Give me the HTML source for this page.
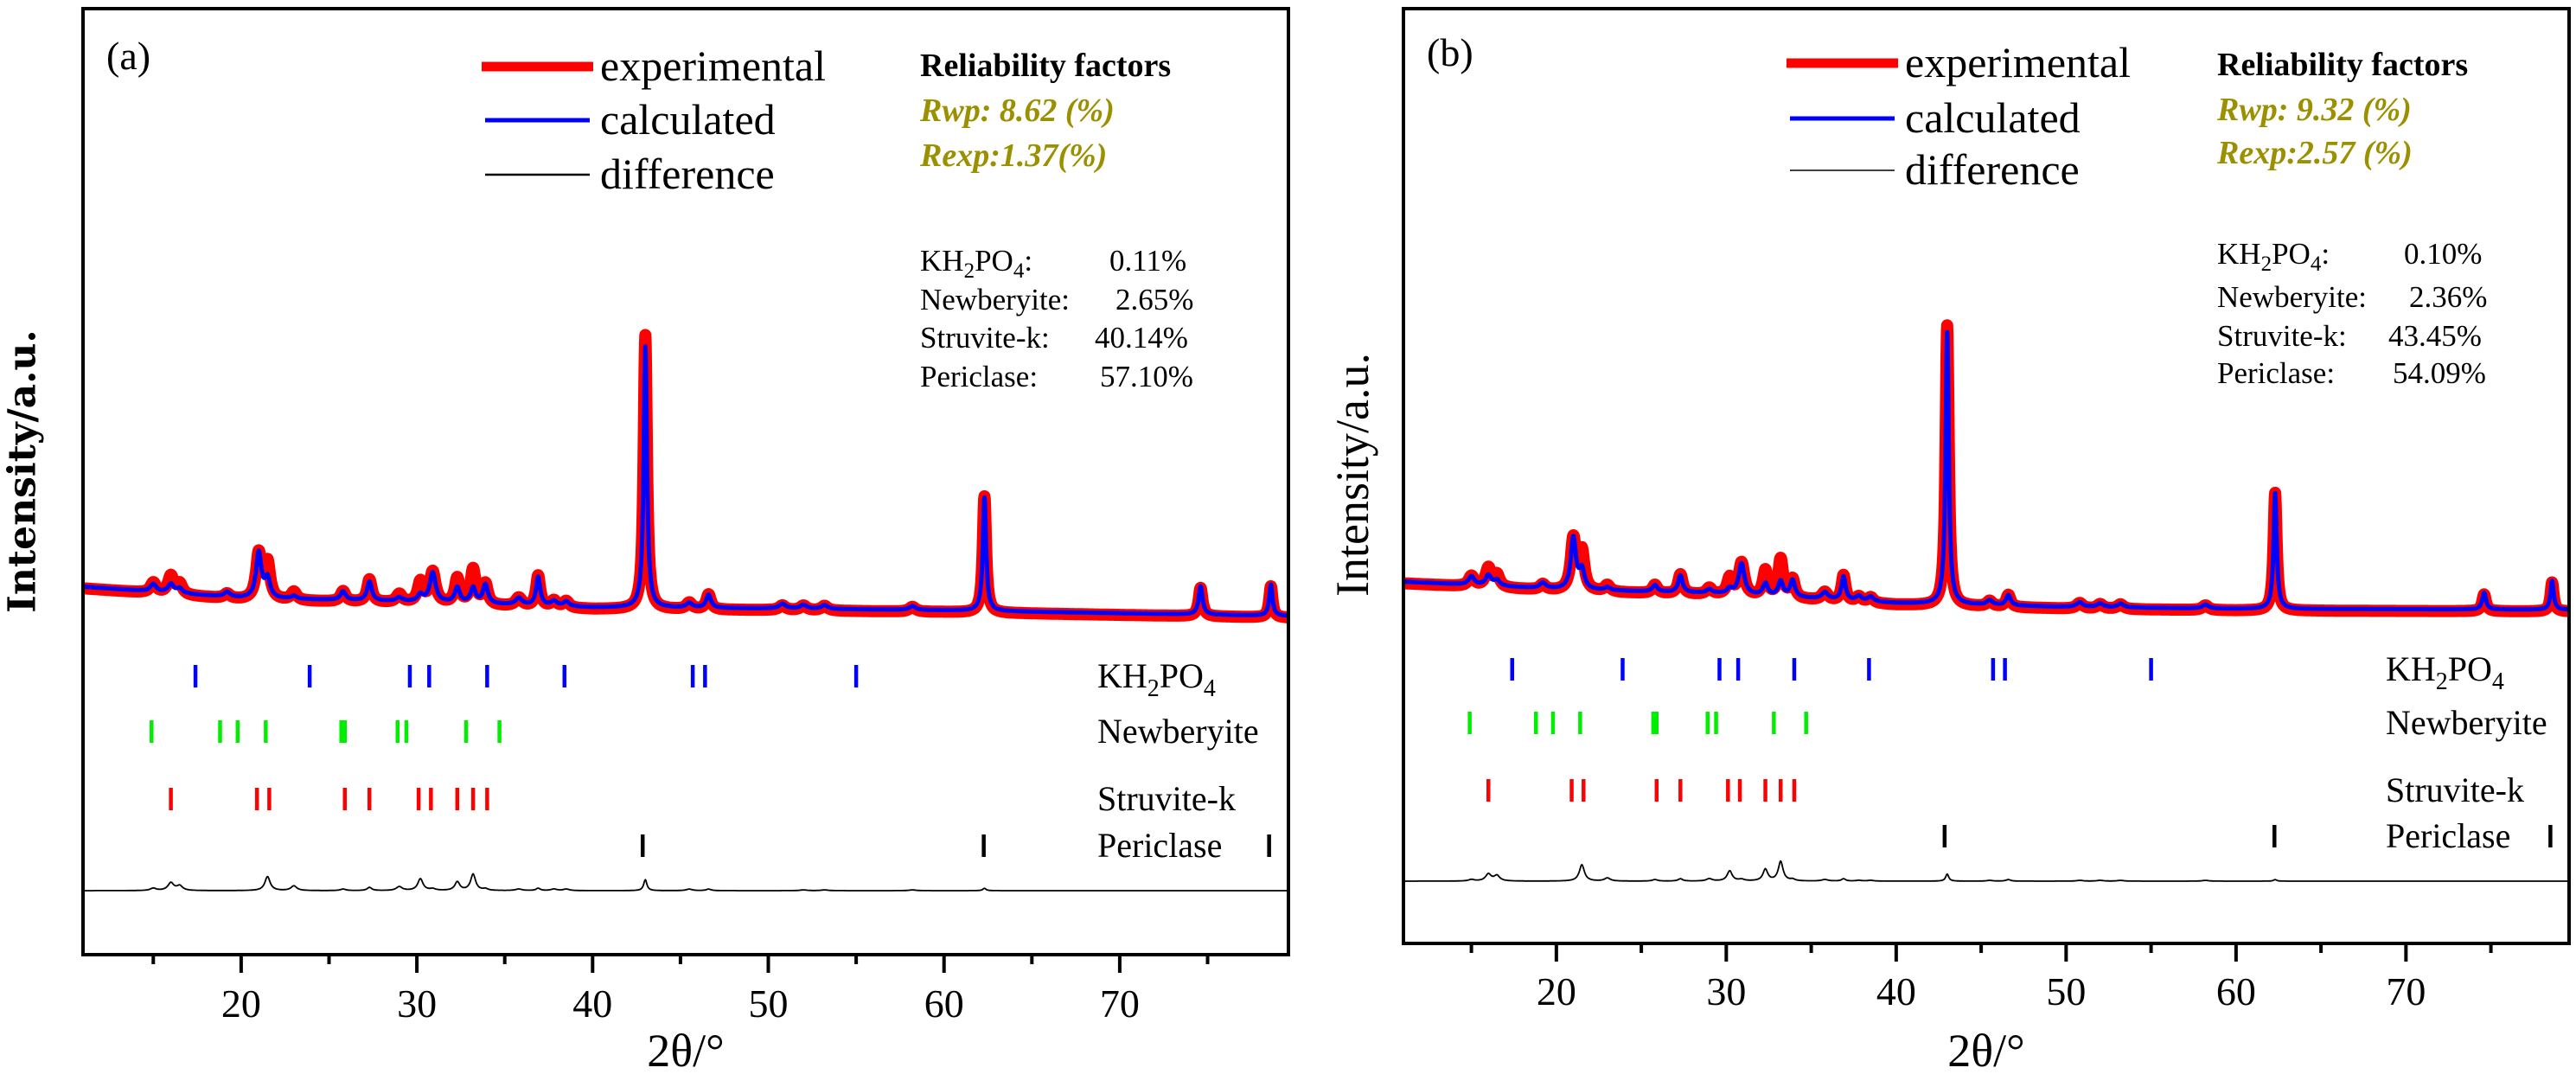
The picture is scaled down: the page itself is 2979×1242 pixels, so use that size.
<!DOCTYPE html>
<html><head><meta charset="utf-8">
<style>
html,body{margin:0;padding:0;background:#fff;}
svg{display:block;font-family:"Liberation Serif","Times New Roman",Times,serif;}
svg text{font-family:"Liberation Serif","Times New Roman",Times,serif;fill:#000;}
svg text.dv{font-family:"DejaVu Serif","Liberation Serif",serif;}
</style></head>
<body>
<svg id="fig" width="2979" height="1242" viewBox="0 0 2979 1242" xmlns="http://www.w3.org/2000/svg"></svg>
<script>
// ---- data ----
const xTicks = [20, 30, 40, 50, 60, 70];
const xMinorTicks = [15, 25, 35, 45, 55, 65, 75];
const peakPos = [15.0,16.0,16.5,19.2,21.0,21.5,23.0,25.8,27.3,29.0,30.2,30.9,32.3,33.2,33.9,35.8,36.9,37.8,38.5,43.0,45.5,46.6,50.8,52.0,53.2,58.2,62.3,74.6,78.6];
const peakHw  = [0.2,0.2,0.2,0.2,0.18,0.18,0.2,0.18,0.16,0.2,0.18,0.2,0.17,0.17,0.17,0.22,0.14,0.2,0.2,0.11,0.2,0.16,0.22,0.22,0.22,0.22,0.11,0.13,0.11];
const aCalc = [8,9,5,5,48,20,3,9,20,4,7,31,16,16,20,7,30,5,5,276,5,14,5,4,4,4,120,30,33];
const aExp  = [11,19,11,5,48,38,9,11,24,9,22,33,27,37,22,9,33,7,7,290,7,16,5,5,5,5,123,30,33];
const aBgX = [11,20,30,40,50,60,79.6];
const aBgY = [389,377,373,367,366,364,358];
const bCalc = [9,11,6,6,55,20,3,7,18,4,5,33,13,16,18,7,25,5,5,291,5,11,5,4,4,4,124,18,31];
const bExp  = [11,20,13,6,55,41,7,9,21,7,18,35,28,41,20,9,28,6,6,300,6,13,6,5,5,5,126,18,31];
const bBgX = [11,20,30,40,50,60,79.6];
const bBgY = [387,379,374,364,360,358,357];
const khPos = [17.4,23.9,29.6,30.7,34.0,38.4,45.7,46.4,55.0];
const newbPos = [14.9,18.8,19.8,21.4,25.7,25.9,28.9,29.4,32.8,34.7];
const struvPos = [16.0,20.9,21.6,25.9,27.3,30.1,30.8,32.3,33.2,34.0];
const periPos = [42.85,62.26,78.5];
const aFractions = ["0.11%","2.65%","40.14%","57.10%"];
const bFractions = ["0.10%","2.36%","43.45%","54.09%"];
const aR = ["Rwp: 8.62 (%)","Rexp:1.37(%)"];
const bR = ["Rwp: 9.32 (%)","Rexp:2.57 (%)"];

const NS = "http://www.w3.org/2000/svg";
const svg = document.getElementById('fig');
const SERIF = '"Liberation Serif","Times New Roman",Times,serif';
function mk(tag, attrs, parent){ const e=document.createElementNS(NS,tag); for(const k in attrs) e.setAttribute(k,attrs[k]); if(tag==='text' && !attrs['font-family']) e.setAttribute('font-family',SERIF); (parent||svg).appendChild(e); return e; }

function bg(x, bx, by){ for(let i=0;i<bx.length-1;i++){ if(x<=bx[i+1]){ const t=(x-bx[i])/(bx[i+1]-bx[i]); return by[i]+t*(by[i+1]-by[i]); } } return by[by.length-1]; }
function profile(x, h){ let s=0; for(let i=0;i<peakPos.length;i++){ const d=(x-peakPos[i])/peakHw[i]; s+=h[i]/(1+d*d); } return s; }

function panel(P){
  const g = mk('g',{});
  
  
  const xs = v => P.x0 + (v-11)/(79.6-11)*(P.x1-P.x0);
  const ys = v => P.y1 - v/1000*(P.y1-P.y0);
  let dExp='', dCalc='', dDiff='';
  for(let x=11; x<=79.6; x+=0.02){
    const b=bg(x,P.bgX,P.bgY), e=profile(x,P.exp), c=profile(x,P.calc);
    const px=xs(x).toFixed(1);
    dExp += (dExp?'L':'M')+px+','+ys(b+e).toFixed(1);
    dCalc += (dCalc?'L':'M')+px+','+ys(b+c).toFixed(1);
    dDiff += (dDiff?'L':'M')+px+','+(P.diffBase-(e-c)*0.9).toFixed(1);
  }
  const cl = mk('clipPath',{id:'clip'+P.id},g); mk('rect',{x:P.x0,y:P.y0,width:P.x1-P.x0,height:P.y1-P.y0},cl);
  const ex = mk('path',{d:dExp,fill:'none',stroke:'#ff0000','stroke-width':14,'stroke-linejoin':'round','clip-path':'url(#clip'+P.id+')',transform:'translate(0,2)'},g);
  
  
  const ca = mk('path',{d:dCalc,fill:'none',stroke:'#0000ff','stroke-width':5,'stroke-linejoin':'round','clip-path':'url(#clip'+P.id+')'},g);
  
  
  const df = mk('path',{d:dDiff,fill:'none',stroke:'#000','stroke-width':1.8,'clip-path':'url(#clip'+P.id+')'},g);
  
  
  const rows = [[khPos,'#0000ff',P.rowY[0]],[newbPos,'#00ee00',P.rowY[1]],[struvPos,'#ff0000',P.rowY[2]],[periPos,'#000',P.rowY[3]]];
  rows.forEach(r=>{ r[0].forEach(v=>{
    const t = mk('line',{x1:xs(v),x2:xs(v),y1:r[2]-13,y2:r[2]+13,stroke:r[1],'stroke-width':4.5},g);
    
    
  });});
  const names=['KH2PO4','Newberyite','Struvite-k','Periclase'];
  names.forEach((n,i)=>{
    const t = mk('text',{x:P.phaseX,y:P.rowY[i]+13,'font-size':40},g);
    
    
    if(i===0){ t.innerHTML='KH<tspan font-size="28" dy="10">2</tspan><tspan dy="-10">PO</tspan><tspan font-size="28" dy="10">4</tspan>'; }
    else t.textContent=n;
  });
  const fr = mk('rect',{x:P.x0,y:P.y0,width:P.x1-P.x0,height:P.y1-P.y0,fill:'none',stroke:'#000','stroke-width':4},g);
  
  
  xTicks.forEach(v=>{
    mk('line',{x1:xs(v),x2:xs(v),y1:P.y1,y2:P.y1+21,stroke:'#000','stroke-width':4},g);
    const t = mk('text',{x:xs(v),y:P.tickY,'font-size':46,'text-anchor':'middle'},g);
    
    
    t.textContent=v;
  });
  xMinorTicks.forEach(v=>{ mk('line',{x1:xs(v),x2:xs(v),y1:P.y1,y2:P.y1+11,stroke:'#000','stroke-width':4},g); });
  const xt = mk('text',{x:(P.x0+P.x1)/2,y:1233,'font-size':54,'text-anchor':'middle'},g);
  
  
  xt.textContent='2θ/°';
  const yt = mk('text',{x:0,y:0,'font-size':P.yFs,'font-weight':P.yW,'text-anchor':'middle','dominant-baseline':'central','font-family':P.yFont,'class':P.yCls,transform:'translate('+P.yLabX+','+P.yLabY+') rotate(-90)'},g);
  
  
  yt.textContent='Intensity/a.u.';
  const pl = mk('text',{x:P.lab[0],y:P.lab[1],'font-size':46},g);
  
  
  pl.textContent='('+P.id+')';
  const L=P.leg;
  mk('line',{x1:L.x-137,x2:L.x-8,y1:L.y[0],y2:L.y[0],stroke:'#ff0000','stroke-width':11},g);
  mk('line',{x1:L.x-133,x2:L.x-12,y1:L.y[1],y2:L.y[1],stroke:'#0000ff','stroke-width':5},g);
  mk('line',{x1:L.x-133,x2:L.x-12,y1:L.y[2],y2:L.y[2],stroke:'#000','stroke-width':P.diffW},g);
  ['experimental','calculated','difference'].forEach((s,i)=>{
    const t = mk('text',{x:L.x,y:L.y[i]+16,'font-size':50},g);
    
    
    t.textContent=s;
  });
  const rf = mk('text',{x:P.rx,y:P.ry[0],'font-size':38,'font-weight':'bold'},g);
  
  
  rf.textContent='Reliability factors';
  P.R.forEach((s,i)=>{
    const t = mk('text',{x:P.rx,y:P.ry[i+1],'font-size':38,'font-weight':'bold','font-style':'italic',style:'fill:#9a9000'},g);
    
    
    t.textContent=s;
  });
  const tl=['KH2PO4:','Newberyite:','Struvite-k:','Periclase:'];
  tl.forEach((s,i)=>{
    const t = mk('text',{x:P.rx,y:P.tabY[i],'font-size':35},g);
    
    
    if(i===0) t.innerHTML='KH<tspan font-size="25" dy="8">2</tspan><tspan dy="-8">PO</tspan><tspan font-size="25" dy="8">4</tspan><tspan dy="-8">:</tspan>';
    else t.textContent=s;
    const v = mk('text',{x:P.valX[i],y:P.tabY[i],'font-size':35},g);
    
    
    v.textContent=P.frac[i];
  });
}

panel({id:'a',x0:96,y0:10,x1:1490,y1:1104,calc:aCalc,exp:aExp,bgX:aBgX,bgY:aBgY,diffBase:1030,
  rowY:[782,846,924,978],phaseX:1269,tickY:1176,yLabX:26,yLabY:545,yFs:44,yW:'bold',yFont:'"DejaVu Serif","Liberation Serif",serif',yCls:'dv',
  lab:[123,80],leg:{x:694,y:[77,139,202]},diffW:2.5,rx:1064,ry:[88,140,192],R:aR,
  tabY:[313,358,402,447],valX:[1283,1290,1266,1272],frac:aFractions});
panel({id:'b',x0:1623,y0:10,x1:2971,y1:1091,calc:bCalc,exp:bExp,bgX:bBgX,bgY:bBgY,diffBase:1019,
  rowY:[774,836,914,967],phaseX:2759,tickY:1162,yLabX:1564,yLabY:549,yFs:54,yW:'normal',yFont:SERIF,yCls:'',
  lab:[1650,76],leg:{x:2203,y:[73,137,197]},diffW:1.5,rx:2564,ry:[87,139,189],R:bR,
  tabY:[305,355,400,443],valX:[2780,2786,2762,2767],frac:bFractions});
</script>
</body></html>
